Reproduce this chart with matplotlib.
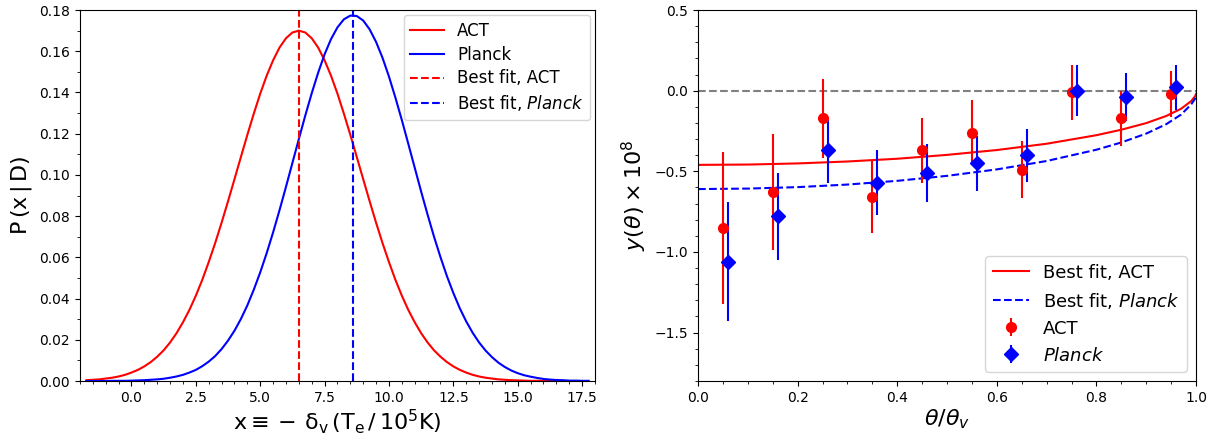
import matplotlib
matplotlib.use('Agg')
import matplotlib.pyplot as plt
from matplotlib.ticker import MultipleLocator

# ---- left panel: posterior of x for ACT and Planck ----
# sampled every 0.25 from -1.75 to 17.75
x_grid = [-1.75 + 0.25 * i for i in range(79)]
p_act = [0.0004, 0.0006, 0.0008, 0.0012, 0.0016, 0.0022, 0.0030, 0.0041, 0.0054, 0.0071,
         0.0092, 0.0118, 0.0149, 0.0187, 0.0232, 0.0285, 0.0345, 0.0414, 0.0491, 0.0577,
         0.0669, 0.0768, 0.0872, 0.0979, 0.1087, 0.1194, 0.1297, 0.1394, 0.1481, 0.1556,
         0.1618, 0.1663, 0.1691, 0.1700,
         0.1691, 0.1663, 0.1618, 0.1556, 0.1481, 0.1394, 0.1297, 0.1194, 0.1087, 0.0979,
         0.0872, 0.0768, 0.0669, 0.0577, 0.0491, 0.0414, 0.0345, 0.0285, 0.0232, 0.0187,
         0.0149, 0.0118, 0.0092, 0.0071, 0.0054, 0.0041, 0.0030, 0.0022, 0.0016, 0.0012,
         0.0008, 0.0006, 0.0004, 0.0003, 0.0002, 0.0001, 0.0001, 0.0001, 0.0, 0.0,
         0.0, 0.0, 0.0, 0.0, 0.0]
p_planck = [0.0, 0.0, 0.0, 0.0, 0.0001, 0.0001, 0.0001, 0.0002, 0.0003, 0.0004,
            0.0006, 0.0008, 0.0011, 0.0016, 0.0022, 0.0030, 0.0041, 0.0054, 0.0072, 0.0094,
            0.0121, 0.0155, 0.0196, 0.0244, 0.0301, 0.0367, 0.0443, 0.0527, 0.0620, 0.0721,
            0.0829, 0.0942, 0.1058, 0.1174, 0.1288, 0.1396, 0.1496, 0.1585, 0.1659, 0.1716,
            0.1755, 0.1773, 0.1771, 0.1749, 0.1706, 0.1645, 0.1568, 0.1477, 0.1375, 0.1266,
            0.1151, 0.1035, 0.0919, 0.0807, 0.0700, 0.0601, 0.0509, 0.0427, 0.0353, 0.0289,
            0.0234, 0.0187, 0.0148, 0.0116, 0.0089, 0.0068, 0.0051, 0.0038, 0.0028, 0.0021,
            0.0015, 0.0010, 0.0007, 0.0005, 0.0004, 0.0002, 0.0002, 0.0001, 0.0001]
best_act = 6.5
best_planck = 8.6

# ---- right panel: profiles ----
theta_act = [0.05, 0.15, 0.25, 0.35, 0.45, 0.55, 0.65, 0.75, 0.85, 0.95]
y_act = [-0.85, -0.63, -0.17, -0.66, -0.37, -0.26, -0.49, -0.01, -0.17, -0.02]
err_act = [0.47, 0.36, 0.245, 0.225, 0.20, 0.20, 0.175, 0.17, 0.17, 0.145]

theta_planck = [0.06, 0.16, 0.26, 0.36, 0.46, 0.56, 0.66, 0.76, 0.86, 0.96]
y_planck = [-1.06, -0.78, -0.37, -0.57, -0.51, -0.45, -0.40, 0.00, -0.04, 0.02]
err_planck = [0.37, 0.27, 0.205, 0.20, 0.18, 0.17, 0.165, 0.16, 0.15, 0.14]

theta_fit = [0.0, 0.1, 0.2, 0.3, 0.4, 0.5, 0.6, 0.7, 0.8, 0.85, 0.9, 0.94, 0.97, 0.99, 0.998, 1.0]
fit_act = [-0.460, -0.458, -0.451, -0.439, -0.422, -0.398, -0.368, -0.329, -0.276, -0.242,
           -0.201, -0.157, -0.112, -0.065, -0.035, -0.02]
fit_planck = [-0.610, -0.607, -0.598, -0.582, -0.559, -0.528, -0.488, -0.436, -0.366, -0.321,
              -0.266, -0.208, -0.148, -0.086, -0.050, -0.04]

fig = plt.figure(figsize=(12.15, 4.36), dpi=100)
ax1 = fig.add_axes([0.0658, 0.1261, 0.4239, 0.8509])
ax2 = fig.add_axes([0.5745, 0.1261, 0.4099, 0.8509])

# left
ax1.plot(x_grid, p_act, color='red', lw=1.5, label='ACT')
ax1.plot(x_grid, p_planck, color='blue', lw=1.5, label='Planck')
ax1.axvline(best_act, color='red', ls='--', lw=1.5, label='Best fit, ACT')
ax1.axvline(best_planck, color='blue', ls='--', lw=1.5, label=r'Best fit, $\it{Planck}$')
ax1.set_xlim(-2, 18)
ax1.set_ylim(0, 0.18)
ax1.xaxis.set_major_locator(MultipleLocator(2.5))
ax1.xaxis.set_minor_locator(MultipleLocator(0.5))
ax1.yaxis.set_major_locator(MultipleLocator(0.02))
ax1.yaxis.set_minor_locator(MultipleLocator(0.01))
ax1.set_xlabel(r'$\mathrm{x \equiv -\,\delta_v\,(T_e\,/\,10^5K)}$', fontsize=16, labelpad=2)
ax1.set_ylabel(r'$\mathrm{P\,(x\,|\,D)}$', fontsize=16)
ax1.legend(loc='upper right', fontsize=12, labelspacing=0.35, borderaxespad=0.3)
ax1.tick_params(labelsize=10)

# right
ax2.axhline(0, color='grey', ls='--', lw=1.5)
ax2.plot(theta_fit, fit_act, color='red', lw=1.5, label='Best fit, ACT')
ax2.plot(theta_fit, fit_planck, color='blue', ls='--', lw=1.5, label=r'Best fit, $\it{Planck}$')
ax2.errorbar(theta_act, y_act, yerr=err_act, fmt='o', color='red', ms=7,
             elinewidth=1.5, label='ACT')
ax2.errorbar(theta_planck, y_planck, yerr=err_planck, fmt='D', color='blue', ms=7,
             elinewidth=1.5, label=r'$\it{Planck}$')
ax2.set_xlim(0, 1)
ax2.set_ylim(-1.8, 0.5)
ax2.xaxis.set_major_locator(MultipleLocator(0.2))
ax2.xaxis.set_minor_locator(MultipleLocator(0.05))
ax2.yaxis.set_major_locator(MultipleLocator(0.5))
ax2.yaxis.set_minor_locator(MultipleLocator(0.1))
ax2.set_xlabel(r'$\theta/\theta_v$', fontsize=16, labelpad=2)
ax2.set_ylabel(r'$y(\theta)\times10^8$', fontsize=16)
ax2.legend(loc='lower right', fontsize=13)
ax2.tick_params(labelsize=10)

fig.savefig('out.png', dpi=100)
